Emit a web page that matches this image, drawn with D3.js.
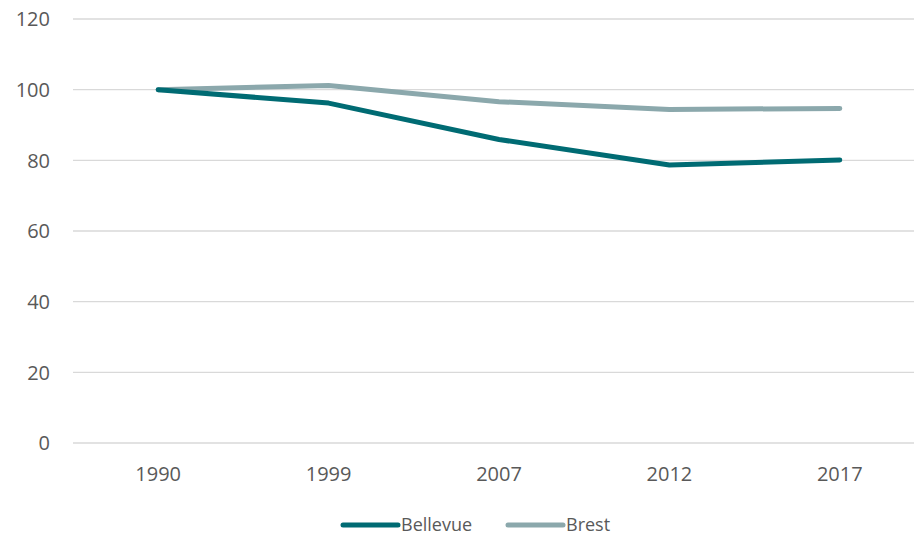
<!DOCTYPE html>
<html>
<head>
<meta charset="utf-8">
<script src="https://cdn.jsdelivr.net/npm/d3@7"></script>
<style>
  html, body { margin: 0; padding: 0; background: #fff; overflow: hidden; }
  svg { display: block; font-family: "Open Sans", "Liberation Sans", sans-serif; }
</style>
</head>
<body>
<svg id="chart" width="914" height="537"></svg>
<script>
// données
const years = ["1990", "1999", "2007", "2012", "2017"];
const bellevue = [100, 96.2, 85.9, 78.7, 80.1];
const brest = [100, 101.2, 96.6, 94.4, 94.7];
const yTicks = [0, 20, 40, 60, 80, 100, 120];

const series = [
    { name: "Bellevue", values: bellevue, color: "#006b73" },
    { name: "Brest", values: brest, color: "#8ba8ac" }
];

const svg = d3.select("#chart");
const width = 914, height = 537;
const margin = { top: 19, right: -11, bottom: 94, left: 73 };

const x = d3.scalePoint()
    .domain(years)
    .range([margin.left, width - margin.right])
    .padding(0.5);

const y = d3.scaleLinear()
    .domain([0, 120])
    .range([height - margin.bottom, margin.top]);

// grille
svg.append("g")
    .selectAll("line")
    .data(yTicks)
    .join("line")
    .attr("x1", margin.left)
    .attr("x2", width - margin.right)
    .attr("y1", d => y(d))
    .attr("y2", d => y(d))
    .attr("stroke", "#d9d9d9")
    .attr("stroke-width", 1.3);

// axe Y
svg.append("g")
    .selectAll("text")
    .data(yTicks)
    .join("text")
    .attr("x", 50)
    .attr("y", d => y(d))
    .attr("dy", "0.36em")
    .attr("text-anchor", "end")
    .attr("fill", "#595959")
    .style("font-size", "20px")
    .text(d => d);

// axe X
svg.append("g")
    .selectAll("text")
    .data(years)
    .join("text")
    .attr("x", d => x(d))
    .attr("y", 481)
    .attr("text-anchor", "middle")
    .attr("fill", "#595959")
    .style("font-size", "20px")
    .text(d => d);

// courbes
const line = d3.line()
    .x((d, i) => x(years[i]))
    .y(d => y(d));

svg.append("g")
    .selectAll("path")
    .data(series.slice().reverse())
    .join("path")
    .attr("d", d => line(d.values))
    .attr("fill", "none")
    .attr("stroke", d => d.color)
    .attr("stroke-width", 5)
    .attr("stroke-linecap", "round")
    .attr("stroke-linejoin", "round");

// légende
const legendPos = [343, 508];
const leg = svg.append("g")
    .selectAll("g")
    .data(series)
    .join("g")
    .attr("transform", (d, i) => `translate(${legendPos[i]},525)`);

leg.append("line")
    .attr("x1", 0)
    .attr("x2", 55)
    .attr("stroke", d => d.color)
    .attr("stroke-width", 5)
    .attr("stroke-linecap", "round");

leg.append("text")
    .attr("x", 58)
    .attr("dy", "0.36em")
    .attr("fill", "#595959")
    .style("font-size", "18px")
    .text(d => d.name);
</script>
</body>
</html>
